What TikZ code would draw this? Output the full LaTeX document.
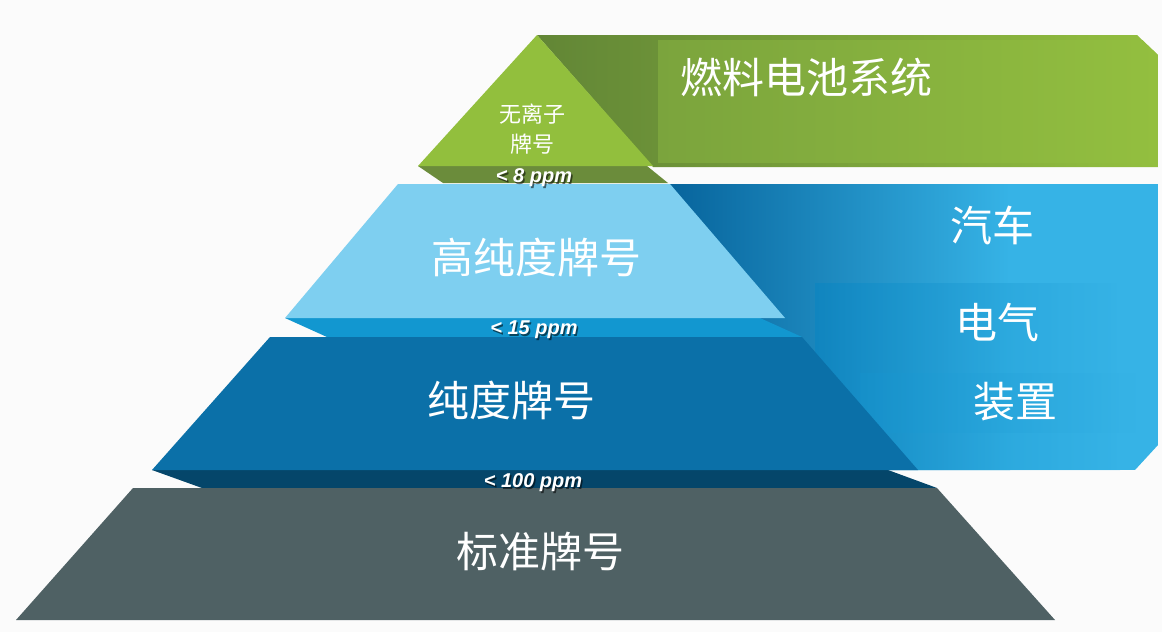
\documentclass[tikz,border=0pt]{standalone}
\usepackage{fontspec}
\newfontfamily\cjk{Noto Sans CJK SC}
\newfontfamily\lsans{Liberation Sans}
\definecolor{bgc}{HTML}{FBFBFB}
\definecolor{gTri}{HTML}{92BF3D}
\definecolor{gBand}{HTML}{6B8C3B}
\definecolor{gDark}{HTML}{628636}
\definecolor{gLight}{HTML}{93BF3F}
\definecolor{gMid}{HTML}{7BA43D}
\definecolor{bLight}{HTML}{7ECFF0}
\definecolor{bBand1}{HTML}{1297D0}
\definecolor{bMid}{HTML}{0B70A8}
\definecolor{bBand2}{HTML}{05466A}
\definecolor{greyc}{HTML}{4F6164}
\definecolor{banDark}{HTML}{06629A}
\definecolor{banLight}{HTML}{36B3E6}
\definecolor{banLow}{HTML}{0785C2}
\tikzset{
  cjklabel/.style={text=white, font=\cjk\fontsize{42}{46}\selectfont, inner sep=0pt},
  cjksmall/.style={text=white, font=\cjk\fontsize{22}{30}\selectfont, inner sep=0pt, align=center},
  ppm/.style={text=white, font=\lsans\bfseries\itshape\fontsize{20}{20}\selectfont, inner sep=0pt},
  ppmshadow/.style={text=black, opacity=0.55, font=\lsans\bfseries\itshape\fontsize{20}{20}\selectfont, inner sep=0pt}
}
\begin{document}
\begin{tikzpicture}[x=1pt,y=-1pt]
\useasboundingbox (0,0) rectangle (1162,632);
\fill[bgc] (0,0) rectangle (1162,632);

% ---------- green banner ----------
\begin{scope}
  \clip (537,35) -- (1137,35) -- (1158,55) -- (1158,167) -- (653,167) -- cycle;
  \shade[left color=gDark, right color=gLight] (537,35) rectangle (1158,167);
  \shade[left color=gMid, right color=gLight] (658,40) rectangle (1158,162);
\end{scope}
% ---------- blue banner ----------
\begin{scope}
  \clip (660,184) -- (1158,184) -- (1158,445) -- (1135,470) -- (660,470) -- cycle;
  \fill[banLight] (660,184) rectangle (1158,470);
  \shade[left color=banDark, right color=banLight] (660,184) rectangle (1010,470);
  \shade[left color=banLow, right color=banLight, opacity=0.55] (815,283) rectangle (1120,470);
  \shade[left color=banLow!70!banLight, right color=banLight, opacity=0.45] (860,373) rectangle (1140,432);
\end{scope}

% ---------- pyramid ----------
% top triangle
\fill[gBand] (418,166) -- (443,183) -- (668,183) -- (647,166) -- cycle;
\fill[gTri] (537,35) -- (418,166) -- (653,166) -- cycle;
% high purity
\fill[bBand1] (285,318) -- (327,337) -- (802,337) -- (760,318) -- cycle;
\fill[bLight] (398,184) -- (670,184) -- (785,318) -- (285,318) -- cycle;
% purity
\fill[bBand2] (152,470) -- (202,488) -- (937,488) -- (888,470) -- cycle;
\fill[bMid] (270,337) -- (802,337) -- (918,470) -- (152,470) -- cycle;
% standard
\fill[greyc] (133,488) -- (937,488) -- (1055,620) -- (16,620) -- cycle;

% ---------- texts ----------
\node[cjklabel] (fuel) at (806,77) {燃料电池系统};
\node[cjksmall] (noion) at (532,129) {无离子\\牌号};
\node[cjklabel] (high) at (536,257) {高纯度牌号};
\node[cjklabel] (pure) at (511,400) {纯度牌号};
\node[cjklabel] (std) at (540,552) {标准牌号};
\node[cjklabel] (car) at (992,225) {汽车};
\node[cjklabel] (elec) at (997,322) {电气};
\node[cjklabel] (dev) at (1015,402) {装置};

\node[ppmshadow] (s8) at (535.5,179.5) {< 8 ppm};
\node[ppm] (p8) at (534,178) {< 8 ppm};
\node[ppmshadow] (s15) at (535.5,331.5) {< 15 ppm};
\node[ppm] (p15) at (534,330) {< 15 ppm};
\node[ppmshadow] (s100) at (534.5,484.5) {< 100 ppm};
\node[ppm] (p100) at (533,483) {< 100 ppm};
\end{tikzpicture}
\end{document}
